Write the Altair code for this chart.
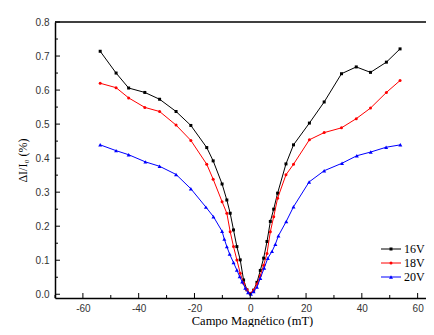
import altair as alt
import pandas as pd

# ---- data ----
series = ["16V", "18V", "20V"]
colors = ["#000000", "#ff0000", "#0000ff"]
shapes = ["square", "circle", "triangle-up"]
sizes = [9, 9, 16]

x_16 = [-53.8, -48.1, -43.6, -37.8, -32.5, -26.6, -21.3, -15.6, -13.3, -10.1, -8.4, -7.2,
        -6.0, -4.8, -3.6, -2.4, -1.2, 0.0, 1.2, 2.4, 3.6, 4.8, 6.0, 7.2, 8.4, 9.8, 12.8,
        15.5, 21.2, 26.5, 32.7, 38.0, 43.1, 48.8, 53.7]
y_16 = [0.714, 0.650, 0.606, 0.593, 0.573, 0.537, 0.496, 0.431, 0.392, 0.324, 0.277, 0.238,
        0.189, 0.140, 0.101, 0.042, 0.013, 0.002, 0.012, 0.035, 0.070, 0.106, 0.155, 0.214,
        0.250, 0.297, 0.383, 0.439, 0.503, 0.565, 0.648, 0.668, 0.652, 0.682, 0.721]

x_18 = x_16
y_18 = [0.620, 0.607, 0.577, 0.549, 0.537, 0.497, 0.452, 0.382, 0.338, 0.272, 0.238, 0.184,
        0.140, 0.101, 0.062, 0.032, 0.013, 0.003, 0.012, 0.030, 0.055, 0.085, 0.120, 0.184,
        0.228, 0.282, 0.351, 0.382, 0.454, 0.475, 0.489, 0.516, 0.547, 0.593, 0.628]

x_20 = [-53.8, -48.1, -43.6, -37.6, -32.5, -26.6, -21.3, -15.9, -13.2, -10.1, -9.3, -8.4,
        -7.4, -6.0, -4.8, -3.8, -2.9, -1.8, -0.8, 0.25, 1.2, 2.4, 3.6, 5.0, 6.3, 7.8, 9.0,
        10.1, 12.9, 15.5, 21.1, 26.5, 32.9, 38.2, 43.2, 48.7, 53.8]
y_20 = [0.439, 0.422, 0.410, 0.389, 0.376, 0.352, 0.310, 0.256, 0.228, 0.185, 0.162, 0.140,
        0.118, 0.093, 0.071, 0.052, 0.037, 0.018, 0.005, 0.001, 0.008, 0.021, 0.047, 0.077,
        0.106, 0.126, 0.147, 0.172, 0.214, 0.257, 0.330, 0.363, 0.385, 0.407, 0.418, 0.432,
        0.439]

x_labels = [-60, -40, -20, 0, 20, 40, 60]
x_major_ticks = [-60, -40, -20, 0, 20, 40, 60]
x_minor_ticks = [-70, -50, -30, -10, 10, 30, 50]
y_labels = [0.0, 0.1, 0.2, 0.3, 0.4, 0.5, 0.6, 0.7, 0.8]
y_minor_ticks = [0.05, 0.15, 0.25, 0.35, 0.45, 0.55, 0.65, 0.75]

# ---- build table ----
xs_all = [x_16, x_18, x_20]
ys_all = [y_16, y_18, y_20]
rows = []
for s, xv, yv in zip(series, xs_all, ys_all):
    for a, b in zip(xv, yv):
        rows.append({"campo": a, "dI": b, "serie": s})
df = pd.DataFrame(rows)

# plot runs to the right edge of the picture (the reference is cropped there)
W, H = 371, 276
xs = alt.Scale(domain=[-70, 63], nice=False, zero=False)
ys = alt.Scale(domain=[-0.011, 0.8], nice=False, zero=False)

x_axis = alt.Axis(values=x_labels, labelExpr="datum.value", tickSize=0, grid=False,
                  domainColor="black", domainWidth=1.5,
                  labelFont="Liberation Sans", labelFontSize=10, labelColor="#333333",
                  labelPadding=5, title="Campo Magnético (mT)", titleX=197,
                  titleFont="Liberation Serif", titleFontSize=12.5, titleFontWeight="normal",
                  titleColor="black", titlePadding=1)
y_axis = alt.Axis(values=y_labels, format=".1f", tickSize=0, grid=False,
                  domainColor="black", domainWidth=1.5,
                  labelFont="Liberation Sans", labelFontSize=10, labelColor="#333333",
                  labelPadding=6, title="ΔI/I₀ (%)",
                  titleFont="Liberation Serif", titleFontSize=12, titleFontWeight="normal",
                  titleColor="black", titlePadding=6)

base = alt.Chart(df).encode(
    x=alt.X("campo:Q", scale=xs, axis=x_axis),
    y=alt.Y("dI:Q", scale=ys, axis=y_axis),
)

layers = []
for i, s in enumerate(series):
    sub = base.transform_filter(alt.datum.serie == s)
    line = sub.mark_line(color=colors[i], strokeWidth=1).encode(order="campo:Q")
    pts = sub.mark_point(filled=True, shape=shapes[i], size=sizes[i],
                         color=colors[i], opacity=1)
    layers += [line, pts]

# inward ticks
xt_major = alt.Chart(pd.DataFrame({"campo": x_major_ticks})).mark_rule(color="black", strokeWidth=1).encode(
    x=alt.X("campo:Q", scale=xs, axis=x_axis), y=alt.value(H), y2=alt.value(H - 5))
xt_minor = alt.Chart(pd.DataFrame({"campo": x_minor_ticks})).mark_rule(color="black", strokeWidth=1).encode(
    x=alt.X("campo:Q", scale=xs, axis=x_axis), y=alt.value(H), y2=alt.value(H - 3))
yt_major = alt.Chart(pd.DataFrame({"dI": y_labels})).mark_rule(color="black", strokeWidth=1).encode(
    y=alt.Y("dI:Q", scale=ys, axis=y_axis), x=alt.value(0), x2=alt.value(5))
yt_minor = alt.Chart(pd.DataFrame({"dI": y_minor_ticks})).mark_rule(color="black", strokeWidth=1).encode(
    y=alt.Y("dI:Q", scale=ys, axis=y_axis), x=alt.value(0), x2=alt.value(3))
top_line = alt.Chart(pd.DataFrame({"k": [0]})).mark_rule(color="black", strokeWidth=1.5).encode(
    x=alt.value(0), x2=alt.value(W), y=alt.value(0))
layers += [xt_major, xt_minor, yt_major, yt_minor, top_line]

# legend
for i, s in enumerate(series):
    ly = 227 + 14 * i
    d = pd.DataFrame({"serie": [s]})
    layers.append(alt.Chart(d).mark_rule(color=colors[i], strokeWidth=1).encode(
        x=alt.value(326), x2=alt.value(346), y=alt.value(ly)))
    layers.append(alt.Chart(d).mark_point(filled=True, shape=shapes[i], size=sizes[i],
                                          color=colors[i], opacity=1).encode(
        x=alt.value(336), y=alt.value(ly)))
    layers.append(alt.Chart(d).mark_text(align="left", baseline="middle", font="Liberation Serif",
                                         fontSize=12, color="black").encode(
        x=alt.value(349), y=alt.value(ly), text="serie:N"))

chart = alt.layer(*layers).properties(
    width=W, height=H,
    autosize=alt.AutoSizeParams(type="none"),
    padding={"left": 47, "top": 14, "right": 0, "bottom": 29},
).configure_view(stroke=None)

chart.save("out.html", embed_options={"renderer": "svg", "actions": False})
